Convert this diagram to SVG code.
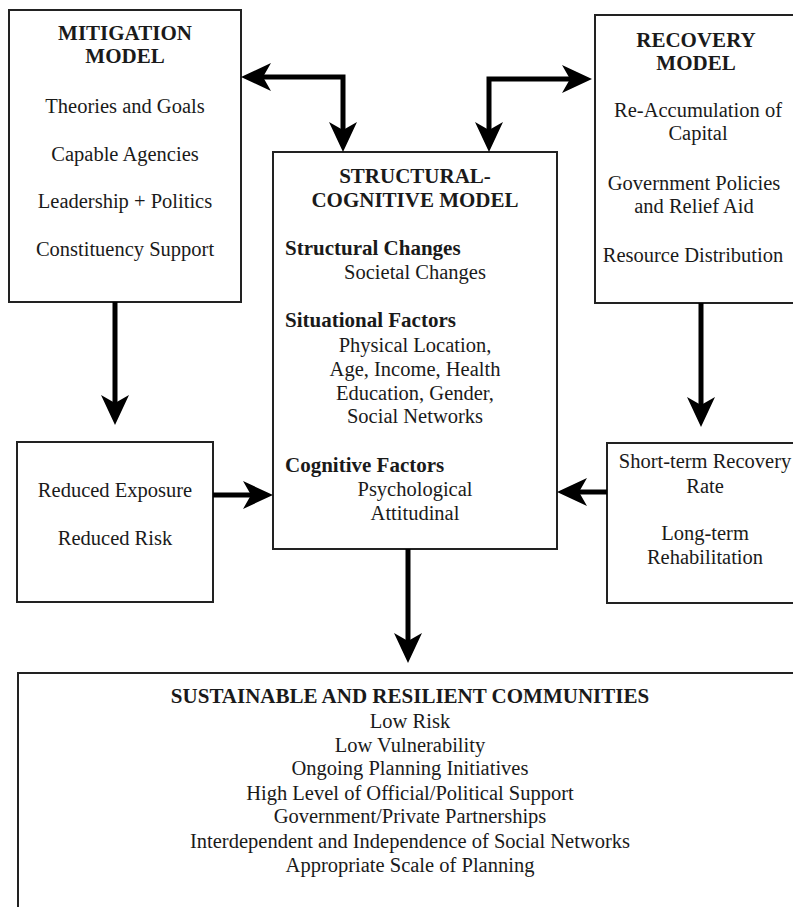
<svg xmlns="http://www.w3.org/2000/svg" width="793" height="907" viewBox="0 0 793 907">
<style>
.box{fill:#fff;stroke:#222;stroke-width:2}
text{font-family:"Liberation Serif","Times New Roman",serif;font-size:20.5px;fill:#1a1a1a}
.c{text-anchor:middle}
.b{font-weight:bold;font-size:21px}
.conn{fill:none;stroke:#000;stroke-width:5}
</style>
<defs>
<marker id="ah" viewBox="0 0 30 28" refX="8" refY="14" markerWidth="30" markerHeight="28" markerUnits="userSpaceOnUse" orient="auto-start-reverse">
<path d="M0,0 L30,14 L0,28 L8,14 Z" fill="#000"/>
</marker>
</defs>
<rect width="793" height="907" fill="#fff"/>
<g id="mitigation">
<rect class="box" x="9" y="10" width="232" height="292"/>
<text class="c b" x="125" y="40">MITIGATION</text>
<text class="c b" x="125" y="63">MODEL</text>
<text class="c" x="125" y="113">Theories and Goals</text>
<text class="c" x="125" y="161">Capable Agencies</text>
<text class="c" x="125" y="208">Leadership + Politics</text>
<text class="c" x="125" y="256">Constituency Support</text>
</g>
<g id="recovery">
<rect class="box" x="595" y="15" width="220" height="288"/>
<text class="c b" x="696" y="47">RECOVERY</text>
<text class="c b" x="696" y="70">MODEL</text>
<text class="c" x="698" y="117">Re-Accumulation of</text>
<text class="c" x="698" y="140">Capital</text>
<text class="c" x="694" y="190">Government Policies</text>
<text class="c" x="694" y="213">and Relief Aid</text>
<text class="c" x="693" y="262">Resource Distribution</text>
</g>
<g id="structural">
<rect class="box" x="273" y="152" width="284" height="397"/>
<text class="c b" x="415" y="183">STRUCTURAL-</text>
<text class="c b" x="415" y="207">COGNITIVE MODEL</text>
<text class="b" x="285" y="255">Structural Changes</text>
<text class="c" x="415" y="279">Societal Changes</text>
<text class="b" x="285" y="327">Situational Factors</text>
<text class="c" x="415" y="352">Physical Location,</text>
<text class="c" x="415" y="376">Age, Income, Health</text>
<text class="c" x="415" y="400">Education, Gender,</text>
<text class="c" x="415" y="423">Social Networks</text>
<text class="b" x="285" y="472">Cognitive Factors</text>
<text class="c" x="415" y="496">Psychological</text>
<text class="c" x="415" y="520">Attitudinal</text>
</g>
<g id="reduced">
<rect class="box" x="17" y="442" width="196" height="160"/>
<text class="c" x="115" y="497">Reduced Exposure</text>
<text class="c" x="115" y="545">Reduced Risk</text>
</g>
<g id="shortterm">
<rect class="box" x="607" y="443" width="220" height="160"/>
<text class="c" x="705" y="468">Short-term Recovery</text>
<text class="c" x="705" y="493">Rate</text>
<text class="c" x="705" y="540">Long-term</text>
<text class="c" x="705" y="564">Rehabilitation</text>
</g>
<g id="sustainable">
<rect class="box" x="18" y="673" width="800" height="260"/>
<text class="c b" x="410" y="703">SUSTAINABLE AND RESILIENT COMMUNITIES</text>
<text class="c" x="410" y="728">Low Risk</text>
<text class="c" x="410" y="752">Low Vulnerability</text>
<text class="c" x="410" y="775">Ongoing Planning Initiatives</text>
<text class="c" x="410" y="800">High Level of Official/Political Support</text>
<text class="c" x="410" y="823">Government/Private Partnerships</text>
<text class="c" x="410" y="848">Interdependent and Independence of Social Networks</text>
<text class="c" x="410" y="872">Appropriate Scale of Planning</text>
</g>
<g id="connectors">
<path class="conn" d="M263,77 H343 V130" marker-start="url(#ah)" marker-end="url(#ah)"/>
<path class="conn" d="M489,130 V79 H570" marker-start="url(#ah)" marker-end="url(#ah)"/>
<path class="conn" d="M115,302 V403" marker-end="url(#ah)"/>
<path class="conn" d="M701,303 V405" marker-end="url(#ah)"/>
<path class="conn" d="M213,495 H251" marker-end="url(#ah)"/>
<path class="conn" d="M607,492 H579" marker-end="url(#ah)"/>
<path class="conn" d="M408,549 V641" marker-end="url(#ah)"/>
</g>
</svg>
